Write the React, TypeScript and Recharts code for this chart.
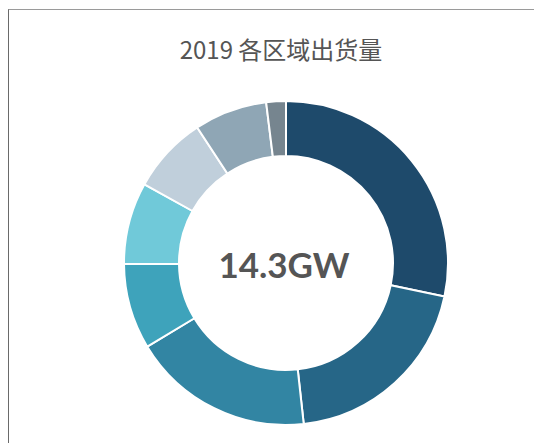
import { PieChart, Pie, Cell } from 'recharts'

const regions = ['区域一', '区域二', '区域三', '区域四', '区域五', '区域六', '区域七', '其他']
const shipments = [4.05, 2.85, 2.59, 1.22, 1.17, 1.1, 1.04, 0.28]
const colors = ['#1e4a6b', '#266687', '#3285a3', '#3ea3bb', '#70c9d9', '#c0cfdb', '#8fa6b5', '#76858f']
const title = '2019 各区域出货量'
const total = '14.3GW'

const data = regions.map((name, i) => ({ name, value: shipments[i] }))

export default function App() {
  return (
    <div style={{ position: 'relative', width: 534, height: 435 }}>
      <div
        style={{
          position: 'absolute',
          left: 0,
          top: 1,
          width: 534,
          height: 434,
          borderTop: '1px solid #9a9a9a',
          borderLeft: '1px solid #6a6a6a',
        }}
      />
      <div
        style={{
          position: 'absolute',
          left: 0,
          top: 26,
          width: 546,
          textAlign: 'center',
          fontFamily: '"Noto Sans CJK SC", "Noto Sans", sans-serif',
          fontSize: 24,
          lineHeight: '30px',
          color: '#555',
        }}
      >
        {title}
      </div>
      <div style={{ position: 'absolute', left: 0, top: 0 }}>
        <PieChart width={534} height={435}>
          <Pie
            data={data}
            dataKey="value"
            nameKey="name"
            cx={273}
            cy={250}
            innerRadius={107}
            outerRadius={162}
            startAngle={90}
            endAngle={-270}
            stroke="#fff"
            strokeWidth={2}
            isAnimationActive={false}
          >
            {data.map((d, i) => (
              <Cell key={d.name} fill={colors[i]} />
            ))}
          </Pie>
        </PieChart>
      </div>
      <div
        style={{
          position: 'absolute',
          left: 176,
          top: 239,
          width: 200,
          textAlign: 'center',
          fontFamily: 'Lato, sans-serif',
          fontWeight: 700,
          fontSize: 35,
          lineHeight: '35px',
          color: '#555',
        }}
      >
        {total}
      </div>
    </div>
  )
}
